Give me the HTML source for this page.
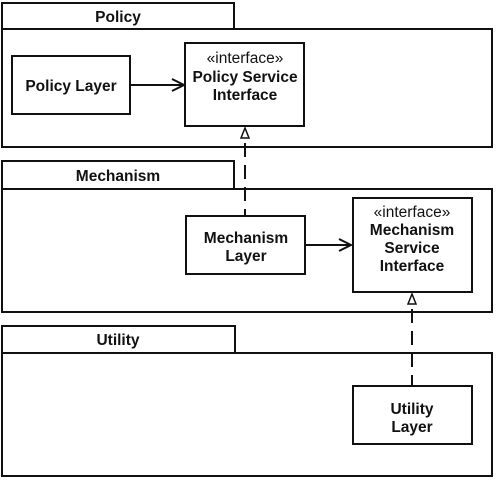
<!DOCTYPE html>
<html><head><style>body{margin:0;background:#fff}</style></head><body>
<svg width="496" height="480" xmlns="http://www.w3.org/2000/svg" font-family="Liberation Sans, Arial, sans-serif" font-size="15.5" text-anchor="middle">
<g fill="none" stroke="#111" stroke-width="2">
<rect x="2" y="3" width="232" height="26"/>
<rect x="2" y="29" width="490" height="118"/>
<rect x="12" y="56" width="118" height="58"/>
<rect x="185" y="43" width="119" height="83"/>
<rect x="2" y="161" width="232" height="28"/>
<rect x="2" y="189" width="490" height="123"/>
<rect x="186" y="216" width="119" height="58"/>
<rect x="353" y="198" width="119" height="94"/>
<rect x="2" y="326" width="233" height="27"/>
<rect x="2" y="353" width="490" height="123"/>
<rect x="353" y="386" width="119" height="58"/>
<line x1="130" y1="85" x2="184" y2="85"/>
<polyline points="172,79 184,85 172,91"/>
<line x1="305" y1="245" x2="351" y2="245"/>
<polyline points="339,239 351,245 339,251"/>
<line x1="245" y1="143" x2="245" y2="216" stroke-dasharray="14,8"/>
<polygon points="245,128 241,138 249,138" stroke-width="1.5"/>
<line x1="412" y1="309" x2="412" y2="386" stroke-dasharray="14,8"/>
<polygon points="412,294 408,304 416,304" stroke-width="1.5"/>
</g>
<g font-weight="bold" fill="#111">
<text x="118" y="22">Policy</text>
<text x="118" y="181">Mechanism</text>
<text x="118" y="345">Utility</text>
<text x="71" y="91">Policy Layer</text>
<text x="245" y="82">Policy Service</text>
<text x="245" y="100">Interface</text>
<text x="246" y="243">Mechanism</text>
<text x="246" y="261">Layer</text>
<text x="412" y="235">Mechanism</text>
<text x="412" y="253">Service</text>
<text x="412" y="271">Interface</text>
<text x="412" y="414">Utility</text>
<text x="412" y="432">Layer</text>
</g>
<g fill="#111">
<text x="245" y="63">«interface»</text>
<text x="412" y="217">«interface»</text>
</g>
</svg>
</body></html>
